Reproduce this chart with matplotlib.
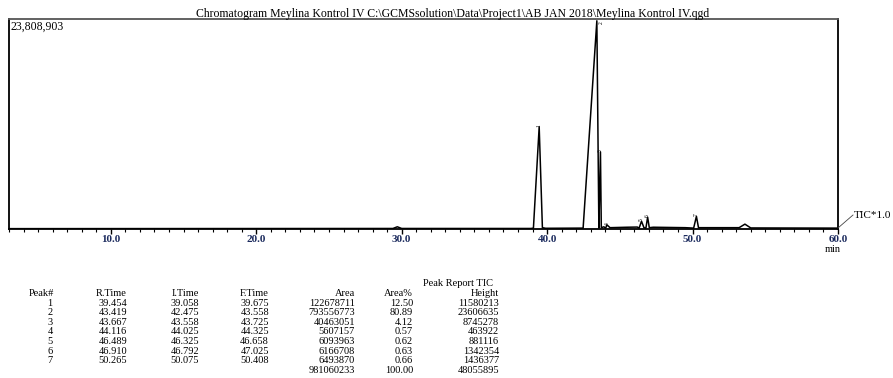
import numpy as np
import matplotlib
matplotlib.use("Agg")
import matplotlib.pyplot as plt
from matplotlib.ticker import MultipleLocator

# Tabel peak report
peak_no = [1, 2, 3, 4, 5, 6, 7]
r_time = [39.454, 43.419, 43.667, 44.116, 46.489, 46.910, 50.265]
i_time = [39.058, 42.475, 43.558, 44.025, 46.325, 46.792, 50.075]
f_time = [39.675, 43.558, 43.725, 44.325, 46.658, 47.025, 50.408]
area = [122678711, 793556773, 40463051, 5607157, 6093963, 6166708, 6493870]
area_pct = [12.50, 80.89, 4.12, 0.57, 0.62, 0.63, 0.66]
height = [11580213, 23606635, 8745278, 463922, 881116, 1342354, 1436377]
total_area = 981060233
total_pct = 100.00
total_height = 48055895

# Garis dasar dan puncak kecil yang dibaca dari gambar
base_t = [3.0, 29.4, 29.7, 30.0, 38.9, 39.9, 42.3, 43.9, 45.5, 46.2, 47.3, 49.5, 53.2, 53.6, 54.0, 60.0]
base_v = [40000, 60000, 250000, 60000, 60000, 80000, 100000, 250000, 200000, 220000,
          200000, 150000, 150000, 550000, 120000, 100000]

y_max = 23808903
x_min, x_max = 3.0, 60.0

# Susun titik kromatogram
pts = list(zip(base_t, base_v))
for k in range(len(r_time)):
    pts.append((i_time[k], 100000))
    pts.append((r_time[k], height[k]))
    pts.append((f_time[k], 150000))
pts.sort(key=lambda p: p[0])
t = np.array([p[0] for p in pts])
v = np.array([p[1] for p in pts])

W, H = 893, 378
fig = plt.figure(figsize=(W / 100, H / 100), dpi=100)
ax = fig.add_axes([9 / W, 1 - 229 / H, (838 - 9) / W, (229 - 19) / H])

ax.plot(t, v, color="black", lw=1.1)
ax.set_xlim(x_min, x_max)
ax.set_ylim(0, y_max)
ax.set_yticks([])

serif = "Liberation Serif"
navy = "#1c2b5e"
ax.xaxis.set_minor_locator(MultipleLocator(1))
ax.tick_params(axis="x", which="major", direction="out", length=3.5, width=1,
               labelsize=8, labelcolor=navy, pad=1)
ax.tick_params(axis="x", which="minor", direction="out", length=2.5, width=0.8)
ax.set_xticks([10, 20, 30, 40, 50, 60])
ax.set_xticklabels(["10.0", "20.0", "30.0", "40.0", "50.0", "60.0"], fontfamily=serif, fontweight="bold")
for s in ax.spines.values():
    s.set_linewidth(1.3)
ax.spines["top"].set_color("#555555")

# Label nomor puncak kecil
for k in range(len(r_time)):
    if height[k] > 0.95 * y_max:
        ax.text(r_time[k] + 0.1, height[k], str(peak_no[k]), rotation=90, fontsize=4,
                ha="left", va="top", fontfamily=serif)
    else:
        ax.text(r_time[k], height[k], str(peak_no[k]), rotation=90, fontsize=4,
                ha="center", va="bottom", fontfamily=serif)

ax.text(0.002, 0.993, "23,808,903", transform=ax.transAxes, ha="left", va="top",
        fontsize=8.5, fontfamily=serif)

def ftext(px, py, s, **kw):
    kw.setdefault("fontsize", 7.5)
    kw.setdefault("fontfamily", serif)
    kw.setdefault("va", "center")
    fig.text(px / W, 1 - py / H, s, **kw)

ftext(453, 17, r"Chromatogram Meylina Kontrol IV C:\GCMSsolution\Data\Project1\AB JAN 2018\Meylina Kontrol IV.qgd",
      ha="center", va="baseline", fontsize=8.5)
ftext(833, 250, "min", ha="center")
fig.add_artist(plt.Line2D([838 / W, 853 / W], [1 - 228 / H, 1 - 215 / H], color="#444444", lw=0.6))
ftext(854, 215, "TIC*1.0", ha="left", fontsize=8)

# Tabel
ftext(493, 283, "Peak Report TIC", ha="right")
cols = [54, 127, 199, 269, 355, 413, 499]
heads = ["Peak#", "R.Time", "I.Time", "F.Time", "Area", "Area%", "Height"]
for c, h in zip(cols, heads):
    ftext(c, 293, h, ha="right")
row_y = 303
for k in range(len(peak_no)):
    vals = [str(peak_no[k]), f"{r_time[k]:.3f}", f"{i_time[k]:.3f}", f"{f_time[k]:.3f}",
            str(area[k]), f"{area_pct[k]:.2f}", str(height[k])]
    for j, (c, s) in enumerate(zip(cols, vals)):
        if j == 0:
            ftext(50, row_y, s, ha="center")
        else:
            ftext(c, row_y, s, ha="right")
    row_y += 9.6
ftext(cols[4], row_y, str(total_area), ha="right")
ftext(cols[5], row_y, f"{total_pct:.2f}", ha="right")
ftext(cols[6], row_y, str(total_height), ha="right")

fig.savefig("out.png", dpi=100)
